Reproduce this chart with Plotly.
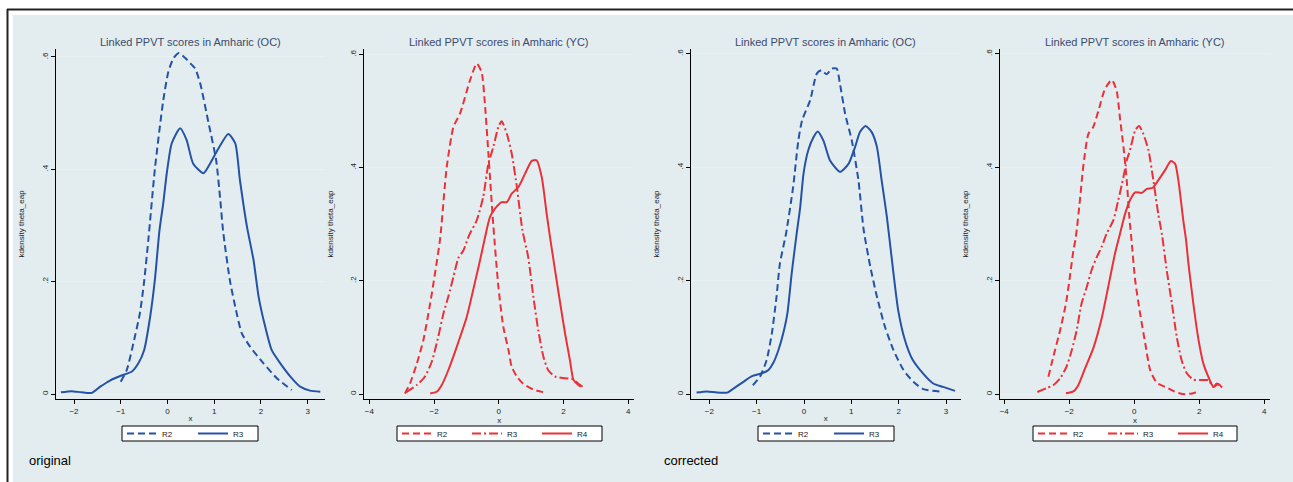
import plotly.graph_objects as go

# ---------------------------------------------------------------
# data (kernel density of theta_eap)
# ---------------------------------------------------------------

# original, older cohort
oc_orig_r2_x = [-1.0, -0.87, -0.73, -0.59, -0.50, -0.41, -0.27, -0.09, 0.02, 0.13, 0.25, 0.38, 0.52, 0.59,
                0.70, 0.88, 1.04, 1.13, 1.19, 1.34, 1.48, 1.59, 1.77, 2.05, 2.34, 2.66]
oc_orig_r2_y = [0.022, 0.043, 0.09, 0.144, 0.20, 0.274, 0.40, 0.523, 0.574, 0.598, 0.607, 0.598, 0.586, 0.58,
                0.553, 0.482, 0.417, 0.345, 0.29, 0.20, 0.144, 0.108, 0.084, 0.055, 0.028, 0.007]
oc_orig_r3_x = [-2.28, -2.05, -1.84, -1.62, -1.44, -1.23, -1.01, -0.76, -0.62, -0.50, -0.37, -0.27, -0.17,
                -0.09, -0.015, 0.09, 0.27, 0.41, 0.55, 0.77, 0.91, 1.09, 1.30, 1.45, 1.55, 1.70, 1.84, 1.95,
                2.09, 2.23, 2.41, 2.63, 2.84, 3.05, 3.27]
oc_orig_r3_y = [0.003, 0.005, 0.003, 0.002, 0.013, 0.024, 0.032, 0.04, 0.055, 0.078, 0.138, 0.203, 0.292,
                0.34, 0.393, 0.446, 0.473, 0.452, 0.41, 0.393, 0.41, 0.437, 0.463, 0.446, 0.381, 0.298, 0.239,
                0.173, 0.12, 0.078, 0.055, 0.031, 0.013, 0.006, 0.004]

# original, younger cohort
yc_orig_r2_x = [-2.90, -2.74, -2.53, -2.33, -2.12, -1.97, -1.81, -1.61, -1.40, -1.20, -0.89, -0.68, -0.53,
                -0.42, -0.32, -0.17, -0.01, 0.14, 0.30, 0.40, 0.56, 0.76, 1.07, 1.48]
yc_orig_r2_y = [0.001, 0.019, 0.054, 0.095, 0.16, 0.213, 0.275, 0.40, 0.472, 0.495, 0.554, 0.584, 0.569,
                0.507, 0.425, 0.30, 0.189, 0.119, 0.078, 0.048, 0.031, 0.018, 0.008, 0.002]
yc_orig_r3_x = [-2.87, -2.53, -2.28, -2.07, -1.87, -1.71, -1.56, -1.40, -1.25, -1.09, -0.92, -0.68, -0.48,
                -0.32, -0.17, -0.01, 0.09, 0.25, 0.40, 0.56, 0.73, 0.91, 1.07, 1.22, 1.38, 1.53, 1.74, 2.05,
                2.31, 2.46, 2.62]
yc_orig_r3_y = [0.003, 0.016, 0.031, 0.057, 0.101, 0.142, 0.172, 0.207, 0.24, 0.254, 0.28, 0.307, 0.348,
                0.407, 0.436, 0.472, 0.482, 0.46, 0.425, 0.366, 0.29, 0.242, 0.172, 0.113, 0.066, 0.042, 0.031,
                0.028, 0.026, 0.018, 0.012]
yc_orig_r4_x = [-2.12, -1.92, -1.76, -1.56, -1.30, -0.99, -0.79, -0.58, -0.45, -0.27, -0.11, 0.09, 0.25,
                0.40, 0.61, 0.81, 1.02, 1.17, 1.33, 1.48, 1.59, 1.74, 1.90, 2.05, 2.20, 2.31, 2.46, 2.54]
yc_orig_r4_y = [0.001, 0.004, 0.016, 0.042, 0.083, 0.136, 0.184, 0.236, 0.27, 0.313, 0.328, 0.339, 0.339,
                0.354, 0.366, 0.389, 0.412, 0.413, 0.383, 0.319, 0.275, 0.219, 0.16, 0.107, 0.06, 0.025, 0.016,
                0.013]

# corrected, older cohort
oc_corr_r2_x = [-1.08, -0.93, -0.79, -0.68, -0.58, -0.51, -0.38, -0.23, -0.12, -0.04, 0.13, 0.27, 0.37,
                0.48, 0.59, 0.69, 0.76, 0.87, 1.01, 1.15, 1.26, 1.40, 1.54, 1.71, 1.89, 2.10, 2.31, 2.52, 2.87]
oc_corr_r2_y = [0.016, 0.031, 0.06, 0.107, 0.172, 0.23, 0.283, 0.365, 0.447, 0.483, 0.518, 0.565, 0.571,
                0.564, 0.574, 0.574, 0.547, 0.494, 0.447, 0.377, 0.29, 0.225, 0.172, 0.119, 0.078, 0.043,
                0.022, 0.009, 0.005]
oc_corr_r3_x = [-2.27, -2.05, -1.84, -1.62, -1.49, -1.28, -1.10, -0.89, -0.75, -0.65, -0.54, -0.44, -0.35,
                -0.26, -0.16, -0.08, -0.01, 0.09, 0.20, 0.29, 0.41, 0.55, 0.76, 0.94, 1.08, 1.18, 1.30, 1.43,
                1.54, 1.64, 1.75, 1.89, 1.99, 2.13, 2.28, 2.45, 2.73, 2.94, 3.19]
oc_corr_r3_y = [0.003, 0.005, 0.003, 0.003, 0.01, 0.022, 0.032, 0.037, 0.043, 0.055, 0.078, 0.107, 0.143,
                0.213, 0.28, 0.33, 0.389, 0.43, 0.453, 0.463, 0.447, 0.412, 0.392, 0.406, 0.436, 0.462, 0.473,
                0.462, 0.436, 0.377, 0.313, 0.213, 0.148, 0.096, 0.063, 0.043, 0.019, 0.013, 0.006]

# corrected, younger cohort
yc_corr_r2_x = [-2.64, -2.49, -2.28, -2.10, -1.98, -1.87, -1.80, -1.67, -1.57, -1.41, -1.26, -1.10, -0.90,
                -0.69, -0.54, -0.44, -0.33, -0.23, -0.15, -0.08, 0.03, 0.18, 0.34, 0.49, 0.70, 1.00, 1.31,
                1.57, 1.82, 1.98]
yc_corr_r2_y = [0.031, 0.066, 0.113, 0.16, 0.207, 0.254, 0.275, 0.342, 0.40, 0.459, 0.471, 0.50, 0.538,
                0.554, 0.535, 0.488, 0.436, 0.377, 0.313, 0.27, 0.201, 0.143, 0.09, 0.043, 0.02, 0.012, 0.003,
                0.0, 0.002, 0.004]
yc_corr_r3_x = [-2.98, -2.69, -2.49, -2.28, -2.08, -1.92, -1.77, -1.62, -1.46, -1.31, -1.15, -1.0, -0.85,
                -0.64, -0.49, -0.33, -0.23, -0.13, 0.03, 0.15, 0.28, 0.44, 0.59, 0.74, 0.86, 1.00, 1.16, 1.31,
                1.46, 1.62, 1.82, 2.08, 2.28, 2.44, 2.54, 2.70]
yc_corr_r3_y = [0.004, 0.011, 0.016, 0.028, 0.049, 0.078, 0.113, 0.16, 0.189, 0.219, 0.242, 0.26, 0.283,
                0.307, 0.342, 0.383, 0.412, 0.43, 0.465, 0.473, 0.459, 0.43, 0.377, 0.318, 0.28, 0.219, 0.16,
                0.101, 0.06, 0.037, 0.026, 0.025, 0.025, 0.013, 0.019, 0.012]
yc_corr_r4_x = [-2.10, -1.87, -1.72, -1.51, -1.26, -1.00, -0.80, -0.59, -0.45, -0.28, -0.13, 0.03, 0.23,
                0.39, 0.57, 0.74, 0.95, 1.13, 1.26, 1.36, 1.51, 1.60, 1.67, 1.82, 1.98, 2.13, 2.28, 2.44, 2.59,
                2.70]
yc_corr_r4_y = [0.002, 0.005, 0.016, 0.046, 0.081, 0.134, 0.189, 0.248, 0.28, 0.318, 0.342, 0.356, 0.355,
                0.362, 0.364, 0.377, 0.395, 0.411, 0.406, 0.377, 0.307, 0.27, 0.23, 0.16, 0.096, 0.054, 0.031,
                0.013, 0.018, 0.012]

y_tickvals = [0, 0.2, 0.4, 0.6]
y_ticktext = ["0", ".2", ".4", ".6"]
oc_xticks = [-2, -1, 0, 1, 2, 3]
yc_xticks = [-4, -2, 0, 2, 4]

title_oc = "Linked PPVT scores in Amharic (OC)"
title_yc = "Linked PPVT scores in Amharic (YC)"

# ---------------------------------------------------------------
# styling
# ---------------------------------------------------------------
W, H = 1293, 482
BLUE = "#2452a6"
RED = "#ec3037"
BG = "#e3edf0"
GRID = "#e8f0f3"
FONT = "Liberation Sans, Arial, sans-serif"

DASH = "7px,4px"
DASHDOT = "9px,3px,2px,3px"

def px_x(p):
    return p / W

def px_y(p):
    return 1 - p / H

# panel (left px, right px), x range, y range, x ticks, title, legend box (left px, right px)
panels = [
    dict(dom=(56, 325), xr=[-2.385, 3.37], yr=[-0.0089, 0.6142], xt=oc_xticks, title=title_oc,
         leg=(122, 258), ew=26),
    dict(dom=(364.3, 634), xr=[-4.155, 4.18], yr=[-0.0088, 0.6097], xt=yc_xticks, title=title_yc,
         leg=(397, 602), ew=25),
    dict(dom=(691, 960.7), xr=[-2.387, 3.31], yr=[-0.0083, 0.6085], xt=oc_xticks, title=title_oc,
         leg=(758, 894), ew=26),
    dict(dom=(1000, 1270), xr=[-4.13, 4.18], yr=[-0.0083, 0.6085], xt=yc_xticks, title=title_yc,
         leg=(1033, 1237), ew=25),
]

series = [
    # panel index, name, x, y, colour, dash
    (0, "R2", oc_orig_r2_x, oc_orig_r2_y, BLUE, DASH),
    (0, "R3", oc_orig_r3_x, oc_orig_r3_y, BLUE, "solid"),
    (1, "R2", yc_orig_r2_x, yc_orig_r2_y, RED, DASH),
    (1, "R3", yc_orig_r3_x, yc_orig_r3_y, RED, DASHDOT),
    (1, "R4", yc_orig_r4_x, yc_orig_r4_y, RED, "solid"),
    (2, "R2", oc_corr_r2_x, oc_corr_r2_y, BLUE, DASH),
    (2, "R3", oc_corr_r3_x, oc_corr_r3_y, BLUE, "solid"),
    (3, "R2", yc_corr_r2_x, yc_corr_r2_y, RED, DASH),
    (3, "R3", yc_corr_r3_x, yc_corr_r3_y, RED, DASHDOT),
    (3, "R4", yc_corr_r4_x, yc_corr_r4_y, RED, "solid"),
]

fig = go.Figure()

for i, name, xs, ys, col, dash in series:
    sfx = "" if i == 0 else str(i + 1)
    fig.add_trace(go.Scatter(
        x=xs, y=ys, name=name, mode="lines",
        line=dict(color=col, width=2, dash=dash, shape="spline", smoothing=0.6),
        xaxis="x" + sfx, yaxis="y" + sfx,
        legend="legend" + sfx,
    ))

shapes = [
    # graph region background
    dict(type="rect", xref="paper", yref="paper", x0=px_x(13), x1=1, y0=0, y1=px_y(15),
         fillcolor=BG, line=dict(width=0), layer="below"),
    # outer frame
    dict(type="line", xref="paper", yref="paper", x0=px_x(7), x1=1, y0=px_y(9.5), y1=px_y(9.5),
         line=dict(color="#222222", width=2)),
    dict(type="line", xref="paper", yref="paper", x0=px_x(7.5), x1=px_x(7.5), y0=0, y1=px_y(9),
         line=dict(color="#222222", width=2)),
]
annotations = []

layout = dict(
    width=W, height=H,
    margin=dict(l=0, r=0, t=0, b=0),
    paper_bgcolor="white",
    plot_bgcolor="white",
    font=dict(family=FONT, color="#222222"),
    showlegend=True,
)

for i, p in enumerate(panels):
    sfx = "" if i == 0 else str(i + 1)
    layout["xaxis" + sfx] = dict(
        domain=[px_x(p["dom"][0]), px_x(p["dom"][1])], range=p["xr"], anchor="y" + sfx,
        tickvals=p["xt"], ticks="outside", ticklen=4, tickcolor="black",
        showline=True, linecolor="black", linewidth=1, showgrid=False, zeroline=False,
        tickfont=dict(size=8, color="#222222"),
        title=dict(text="x", font=dict(size=8, color="#222222"), standoff=0),
    )
    layout["yaxis" + sfx] = dict(
        domain=[px_y(399), px_y(49)], range=p["yr"], anchor="x" + sfx,
        tickvals=y_tickvals, ticktext=y_ticktext, tickangle=-90,
        ticks="outside", ticklen=4, tickcolor="black",
        showline=True, linecolor="black", linewidth=1,
        showgrid=True, gridcolor=GRID, gridwidth=1, zeroline=False,
        tickfont=dict(size=8, color="#222222"),
        title=dict(text="kdensity theta_eap", font=dict(size=8, color="#222222"), standoff=14),
    )
    # legend items from plotly, boxed by a 15px frame like the Stata legend
    layout["legend" + sfx] = dict(
        x=px_x(p["leg"][0]), y=px_y(419), xanchor="left", yanchor="top",
        orientation="h", bgcolor="rgba(0,0,0,0)", borderwidth=0,
        font=dict(size=8, color="#222222"), entrywidth=p["ew"], itemwidth=30,
    )
    shapes.append(dict(
        type="rect", xref="paper", yref="paper",
        x0=px_x(p["leg"][0]), x1=px_x(p["leg"][1]), y0=px_y(441), y1=px_y(426),
        fillcolor="white", line=dict(color="black", width=1), layer="above",
    ))
    annotations.append(dict(
        text=p["title"], xref="x" + sfx + " domain", yref="paper", x=0.5, y=px_y(42),
        xanchor="center", yanchor="middle", showarrow=False,
        font=dict(size=11, color="#3c4a6b"),
    ))

annotations.append(dict(
    text="original", xref="paper", yref="paper", x=px_x(27), y=px_y(460),
    xanchor="left", yanchor="middle", showarrow=False, font=dict(size=13, color="black"),
))
annotations.append(dict(
    text="corrected", xref="paper", yref="paper", x=px_x(662), y=px_y(460),
    xanchor="left", yanchor="middle", showarrow=False, font=dict(size=13, color="black"),
))

layout["shapes"] = shapes
layout["annotations"] = annotations
fig.update_layout(**layout)

# drop the browser's default 8px body margin so the figure sits at the page corner
fig.write_html("out.html", config={"displayModeBar": False},
               post_script="document.body.style.margin='0px';")
